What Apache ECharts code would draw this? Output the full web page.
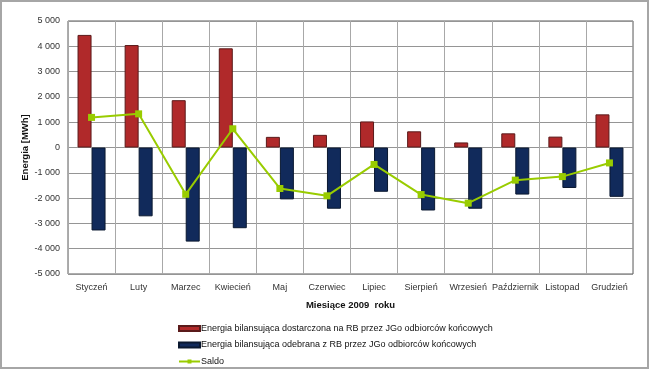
<!DOCTYPE html>
<html><head><meta charset="utf-8">
<script src="https://cdn.jsdelivr.net/npm/echarts@6/dist/echarts.min.js"></script>
<style>html,body{margin:0;padding:0;background:#fff}#c{width:650px;height:370px}</style>
</head><body><div id="c"></div>
<script>
const months = ['Styczeń','Luty','Marzec','Kwiecień','Maj','Czerwiec','Lipiec','Sierpień','Wrzesień','Październik','Listopad','Grudzień'];
const delivered = [4450, 4050, 1870, 3920, 420, 500, 1030, 640, 200, 560, 430, 1310];
const received = [-3280, -2720, -3720, -3190, -2050, -2420, -1750, -2490, -2420, -1860, -1600, -1950];
const saldo = [1190, 1330, -1850, 740, -1620, -1910, -670, -1860, -2200, -1290, -1150, -610];
const seriesNames = ['Energia bilansująca dostarczona na RB przez JGo odbiorców końcowych','Energia bilansująca odebrana z RB przez JGo odbiorców końcowych','Saldo'];
const yName = 'Energia [MWh]';
const xName = 'Miesiące 2009  roku';

const font = '"Liberation Sans", Arial, sans-serif';
const chart = echarts.init(document.getElementById('c'), null, {renderer:'canvas'});
chart.setOption({
  animation: false,
  backgroundColor: '#fff',
  textStyle: {fontFamily: font},
  graphic: [{type:'rect', shape:{x:1, y:1, width:647, height:367}, style:{fill:'none', stroke:'#a6a6a6', lineWidth:2}, silent:true}],
  grid: {left:68, right:17, top:21, bottom:96, show:true, borderColor:'#5a5a5a', borderWidth:1, backgroundColor:'transparent'},
  legend: {
    orient:'vertical', left:178, top:324, padding:0, itemGap:7.5, itemWidth:21, itemHeight:5,
    textStyle:{fontFamily:font, fontSize:9, color:'#111', padding:[0,0,0,-4]},
    data:[{name:seriesNames[0], icon:'rect'},{name:seriesNames[1], icon:'rect'},{name:seriesNames[2]}]
  },
  xAxis: {
    type:'category', data: months, boundaryGap:true,
    name: xName, nameLocation:'middle', nameGap:26,
    nameTextStyle:{fontFamily:font, fontSize:9.5, fontWeight:'bold', color:'#111'},
    axisLine:{onZero:false, show:false},
    axisTick:{show:false},
    axisLabel:{fontFamily:font, fontSize:9, color:'#333', margin:9, interval:0},
    splitLine:{show:true, interval:0, lineStyle:{color:'#a8a8a8', width:1}}
  },
  yAxis: {
    type:'value', min:-5000, max:5000, interval:1000,
    name: yName, nameLocation:'middle', nameGap:43, nameRotate:90, nameMoveOverlap:false,
    nameTextStyle:{fontFamily:font, fontSize:9.5, fontWeight:'bold', color:'#111', verticalAlign:'middle'},
    axisLine:{show:false}, axisTick:{show:false},
    axisLabel:{fontFamily:font, fontSize:9, color:'#333', margin:8,
      formatter: v => { const s = Math.abs(v) >= 1000 ? (Math.abs(v)/1000) + ' 000' : String(Math.abs(v)); return (v<0?'-':'') + s; }},
    splitLine:{show:true, lineStyle:{color:'#959595', width:1}}
  },
  series: [
    {name:seriesNames[0], type:'bar', data:delivered, barWidth:14, barGap:'0%',
      itemStyle:{color:'#B0292A', borderColor:'#5a1a1a', borderWidth:1}},
    {name:seriesNames[1], type:'bar', data:received, barWidth:14, barGap:'0%',
      itemStyle:{color:'#112A5B', borderColor:'#0a1830', borderWidth:1}},
    {name:seriesNames[2], type:'line', data:saldo, symbol:'rect', symbolSize:7,
      lineStyle:{color:'#99CC00', width:2}, itemStyle:{color:'#99CC00'}, z:5}
  ]
});
</script></body></html>
